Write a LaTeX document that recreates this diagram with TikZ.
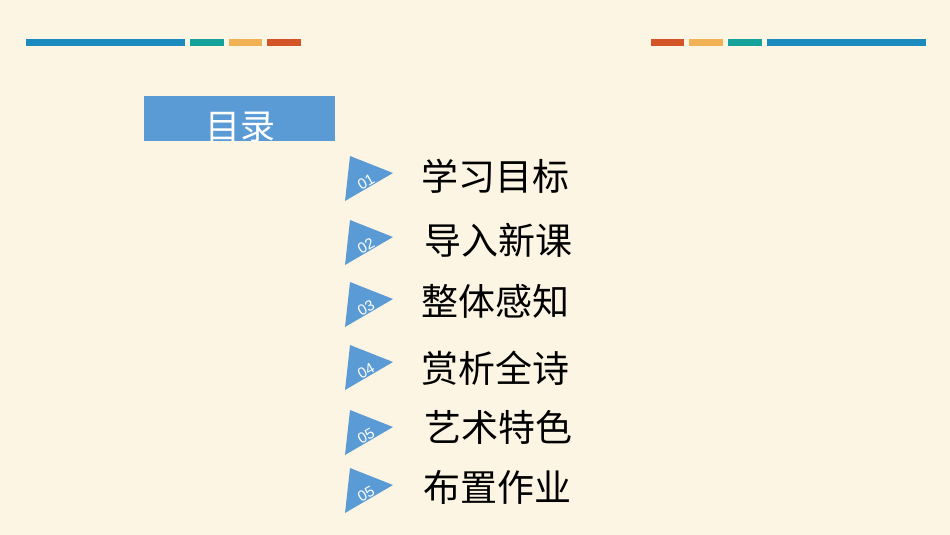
\documentclass[tikz,border=0pt]{standalone}
\usepackage{fontspec}
\newfontfamily\cjk{Noto Sans CJK SC}
\newfontfamily\numfont{Liberation Sans}
\definecolor{bgc}{HTML}{FDF5E3}
\definecolor{barblue}{HTML}{1B8BBF}
\definecolor{barteal}{HTML}{13A39A}
\definecolor{barorange}{HTML}{F0B254}
\definecolor{barred}{HTML}{D35426}
\definecolor{boxblue}{HTML}{5B9BD5}
\tikzset{
  tri/.style={fill=boxblue, draw=none},
  numlbl/.style={text=white, font=\numfont\fontsize{15}{15}\selectfont, rotate=30, inner sep=0pt},
  item/.style={anchor=west, inner sep=0pt, font=\cjk\fontsize{37}{37}\selectfont, text=black}
}
\begin{document}
\begin{tikzpicture}[x=1pt,y=-1pt]
\fill[bgc] (0,0) rectangle (950,535);
\useasboundingbox (0,0) rectangle (950,535);
% top bars left
\fill[barblue] (26,39) rectangle (185,46.5);
\fill[barteal] (190,39) rectangle (224,46.5);
\fill[barorange] (229,39) rectangle (262,46.5);
\fill[barred] (267,39) rectangle (301,46.5);
% top bars right
\fill[barred] (651,39) rectangle (684,46.5);
\fill[barorange] (689,39) rectangle (723,46.5);
\fill[barteal] (728,39) rectangle (762,46.5);
\fill[barblue] (767,39) rectangle (926,46.5);
% header box
\fill[boxblue] (144,96) rectangle (335,141);
\begin{scope}
\clip (144,96) rectangle (335,141);
\node[text=white, font=\cjk\fontsize{35}{35}\selectfont, inner sep=0pt, anchor=center] (title) at (240.5,127) {目录};
\end{scope}
% items
\foreach \i/\ty/\ny/\lab/\txt/\tx in {
  1/173/176/01/学习目标/421,
  2/237/240/02/导入新课/424,
  3/299/301/03/整体感知/421,
  4/362/368/04/赏析全诗/421,
  5/427/427/05/艺术特色/424,
  6/485/487/05/布置作业/423}{
  \fill[tri] (393,\ty) -- (350,\ty-17) -- (345,\ty+28) -- cycle;
  \node[numlbl] (n\i) at (366,\ty+9) {\lab};
  \node[item] (t\i) at (\tx,\ny) {\txt};
}
\end{tikzpicture}
\end{document}
